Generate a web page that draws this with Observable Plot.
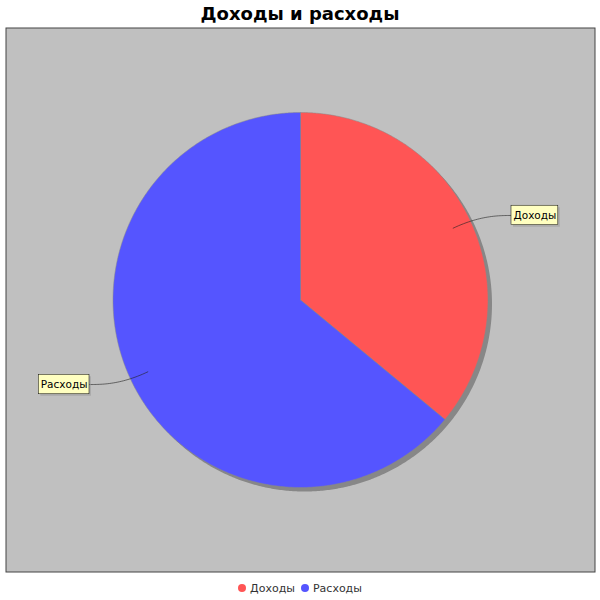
<!DOCTYPE html>
<html><head><meta charset="utf-8">
<script src="https://cdn.jsdelivr.net/npm/d3@7"></script>
<script src="https://cdn.jsdelivr.net/npm/@observablehq/plot@0.6"></script>
<style>
body{margin:0;width:600px;height:600px;position:relative;background:#fff;overflow:hidden}
#title{position:absolute;left:0;top:1px;width:600px;height:26px;text-align:center;font:bold 18px "DejaVu Sans",sans-serif;line-height:26px;color:#000}
#chart{position:absolute;left:0;top:26px}
#legend{position:absolute;left:0;top:575px;width:600px;height:26px;display:flex;justify-content:center;align-items:center;font:11px "DejaVu Sans",sans-serif;color:#333}
.item{display:flex;align-items:center;margin:0 3px}
.dot{width:8px;height:8px;border-radius:50%;margin-right:4px}
</style></head><body>
<div id="title"></div><div id="chart"></div><div id="legend"></div>
<script>
const title = "Доходы и расходы";
const categories = ["Доходы", "Расходы"];
const values = [36, 64];
const colors = ["#FF5555", "#5555FF"];

document.getElementById("title").textContent = title;

const W = 600, H = 548, PX = 187.5; // pixels per radius unit
const cxPix = 300, cyPix = 273.5;
const total = d3.sum(values);
let acc = 0;
const slices = categories.map((c, i) => {
  const a0 = acc / total * 2 * Math.PI;
  acc += values[i];
  const a1 = acc / total * 2 * Math.PI;
  return {c, i, a0, a1, mid: (a0 + a1) / 2};
});
function arcPts(s) {
  const pts = [{c: s.c, x: 0, y: 0}];
  const n = Math.max(2, Math.ceil((s.a1 - s.a0) / (Math.PI / 360)));
  for (let k = 0; k <= n; k++) {
    const a = s.a0 + (s.a1 - s.a0) * k / n;
    pts.push({c: s.c, x: Math.sin(a), y: Math.cos(a)});
  }
  pts.push({c: s.c, x: 0, y: 0});
  return pts;
}
const LABEL_FONT = 10.5;
const ctx = document.createElement("canvas").getContext("2d");
ctx.font = LABEL_FONT + 'px "DejaVu Sans"';
const R_LINK = 0.9, R_ELBOW = 1.0587, GAP = 12.5 / PX, BH = 9.75 / PX, PAD = 2;
const labels = slices.map(s => {
  const sx = Math.sin(s.mid), cy = Math.cos(s.mid);
  const right = sx >= 0;
  const link = [R_LINK * sx, R_LINK * cy];
  const elbow = [R_ELBOW * sx, R_ELBOW * cy];
  const anchorX = right ? R_ELBOW : -R_ELBOW;
  const tx = right ? anchorX + GAP : anchorX - GAP;
  const ty = elbow[1];
  const w = (ctx.measureText(s.c).width + 2 * PAD) / PX;
  const P = [[tx, ty], [anchorX, ty], elbow, link];
  const curve = [];
  for (let k = 0; k <= 30; k++) {
    const t = k / 30, u = 1 - t;
    curve.push({c: s.c,
      x: u*u*u*P[0][0] + 3*u*u*t*P[1][0] + 3*u*t*t*P[2][0] + t*t*t*P[3][0],
      y: u*u*u*P[0][1] + 3*u*u*t*P[1][1] + 3*u*t*t*P[2][1] + t*t*t*P[3][1]});
  }
  const x1 = right ? tx : tx - w, x2 = right ? tx + w : tx;
  return {c: s.c, x1, x2, y1: ty - BH, y2: ty + BH, xm: (x1 + x2) / 2, ym: ty, curve};
});
const full = arcPts({c: "all", a0: 0, a1: 2 * Math.PI});

const marks = [
  Plot.frame({fill: "#C0C0C0", stroke: "#444", strokeWidth: 1, insetLeft: 5.5, insetRight: 5.5, insetTop: 1.5, insetBottom: 2.5}),
  Plot.line(full, {x: "x", y: "y", fill: "#878787", stroke: "none", dx: 4, dy: 4}),
  ...slices.map(s => Plot.line(arcPts(s), {x: "x", y: "y", fill: colors[s.i], stroke: "#888", strokeWidth: 0.5})),
  ...labels.map(l => Plot.line(l.curve, {x: "x", y: "y", stroke: "#222", strokeWidth: 0.6})),
  Plot.rect(labels, {x1: "x1", x2: "x2", y1: "y1", y2: "y2", fill: "rgba(151,151,151,0.5)", dx: 2, dy: 2}),
  Plot.rect(labels, {x1: "x1", x2: "x2", y1: "y1", y2: "y2", fill: "#FFFFC0", stroke: "#000", strokeWidth: 0.5}),
  Plot.text(labels, {x: "xm", y: "ym", text: "c", fontSize: LABEL_FONT, fill: "#000", fontFamily: "DejaVu Sans"})
];

const chart = Plot.plot({
  width: W, height: H, margin: 0,
  x: {domain: [-cxPix / PX, (W - cxPix) / PX], range: [0, W], axis: null},
  y: {domain: [-(H - cyPix) / PX, cyPix / PX], range: [H, 0], axis: null},
  style: {background: "transparent"},
  marks
});
document.getElementById("chart").appendChild(chart);

const legend = document.getElementById("legend");
categories.forEach((c, i) => {
  const it = document.createElement("div"); it.className = "item";
  const d = document.createElement("span"); d.className = "dot"; d.style.background = colors[i];
  const t = document.createElement("span"); t.textContent = c;
  it.appendChild(d); it.appendChild(t); legend.appendChild(it);
});
</script></body></html>
